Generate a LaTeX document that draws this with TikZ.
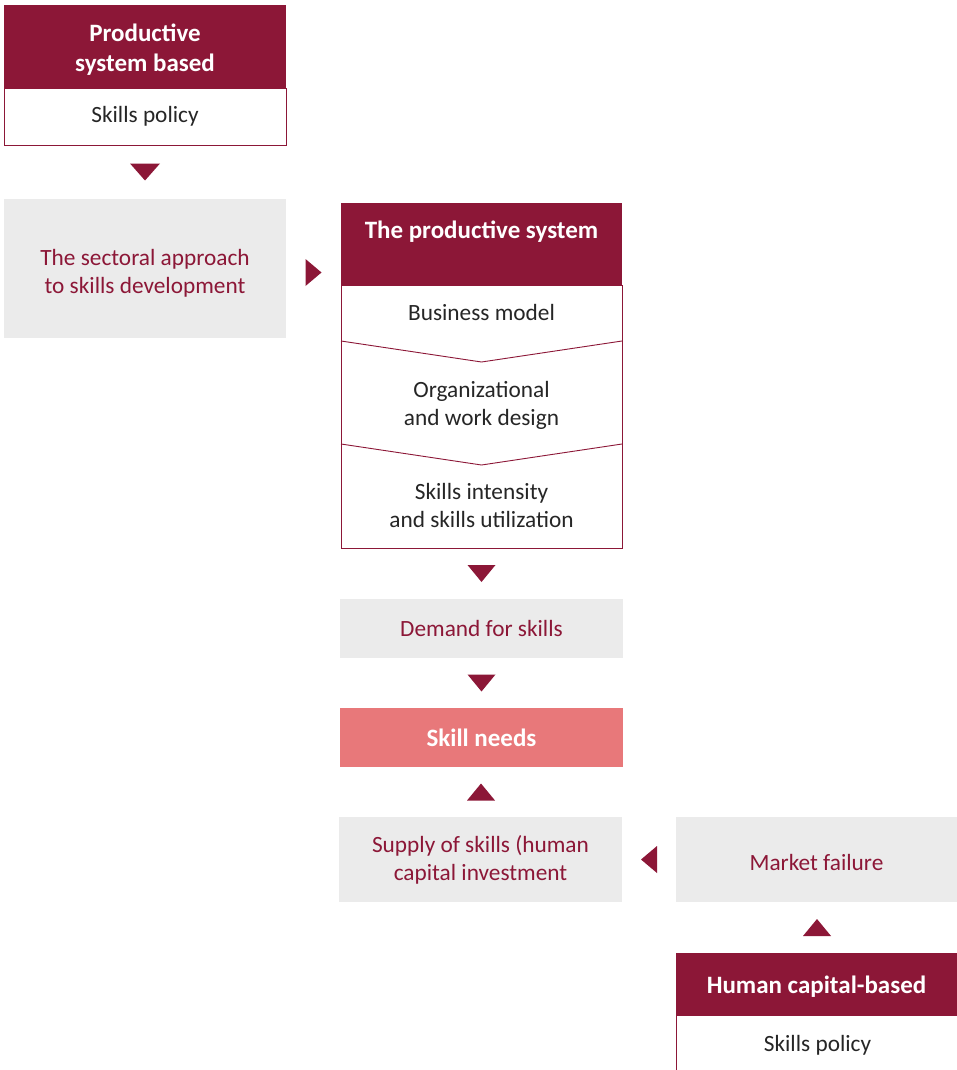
\documentclass[tikz,border=0pt]{standalone}
\usepackage{fontspec}
\setmainfont{Carlito}
\usetikzlibrary{calc}
\definecolor{wine}{HTML}{8C1737}
\definecolor{lgrey}{HTML}{EBEBEB}
\definecolor{salmon}{HTML}{E8787A}
\definecolor{txt}{HTML}{262626}
\begin{document}
\begin{tikzpicture}[x=1pt,y=-1pt,
  every node/.style={font=\fontsize{23.3}{28}\selectfont, inner sep=0pt, outer sep=0pt, align=center, anchor=north west},
  head/.style={fill=wine, text=white, font=\fontsize{25}{30}\selectfont\bfseries},
  headtext/.style={text=white, font=\fontsize{25}{30}\selectfont\bfseries, anchor=center},
  whitebox/.style={fill=white, draw=wine, line width=0.9pt, text=txt},
  greybox/.style={fill=lgrey, text=wine},
  greytext/.style={text=wine, anchor=center},
  needbox/.style={fill=salmon, text=white, font=\fontsize{25}{28}\selectfont\bfseries},
  plain/.style={text=txt, anchor=center},
  tri/.style={fill=wine}]
\clip (0,0) rectangle (957,1070);
\fill[white] (0,0) rectangle (957,1070);
% top left policy box
\node[head, minimum width=282pt, minimum height=83pt] (h1) at (4,5) {};
\node[headtext] (h1t) at ([yshift=-3pt]h1.center) {Productive\\system based};
\node[whitebox, minimum width=282pt, minimum height=57pt] (b1) at (4,88) {Skills policy};
% sectoral approach
\node[greybox, minimum width=282pt, minimum height=139pt] (sec) at (4,199) {};
\node[greytext] (sect) at ([yshift=-5pt]sec.center) {The sectoral approach\\to skills development};
% productive system
\node[head, minimum width=281pt, minimum height=82pt] (psh) at (341,203) {The productive system\\[-2pt]\mbox{}};
\node[whitebox, minimum width=281pt, minimum height=263pt] (psb) at (341,285) {};
\node[plain] (bm) at (481.5,312) {Business model};
\node[plain] (ow) at (481.5,405) {Organizational\\and work design};
\node[plain] (si) at (481.5,505) {Skills intensity\\and skills utilization};
\draw[wine, line width=0.9pt] (psb.west |- 0,341) -- (481.5,362) -- (psb.east |- 0,341);
\draw[wine, line width=0.9pt] (psb.west |- 0,444) -- (481.5,465) -- (psb.east |- 0,444);
% demand, needs, supply
\node[greybox, minimum width=283pt, minimum height=59pt] (dem) at (340,599) {Demand for skills};
\node[needbox, minimum width=283pt, minimum height=59pt] (sn) at (340,708) {Skill needs};
\node[greybox, minimum width=283pt, minimum height=85pt] (sup) at (339,817) {Supply of skills (human\\capital investment};
% market failure and human capital
\node[greybox, minimum width=281pt, minimum height=85pt] (mf) at (676,817) {};
\node[greytext] (mft) at ([yshift=-3pt]mf.center) {Market failure};
\node[head, minimum width=283pt, minimum height=62pt] (hh) at (676,953) {};
\node[headtext] (hht) at ([yshift=-3pt,xshift=-1pt]hh.center) {Human capital-based};
\node[whitebox, minimum width=283pt, minimum height=62pt] (hb) at (676,1015) {Skills policy\\[-22pt]\mbox{}};
% triangles
\coordinate (t1) at ($(b1.south)!0.5!(sec.north)$);
\fill[tri] (t1) ++(-15,-8.5) -- ++(30,0) -- ++(-15,17) -- cycle;
\coordinate (t2) at ($(sec.east)!0.5!(sec.east -| psb.west)$);
\fill[tri] ([yshift=-4pt]t2) ++(-8,-13.5) -- ++(16,13.5) -- ++(-16,13.5) -- cycle;
\coordinate (t3) at ($(psb.south)!0.5!(dem.north)$);
\fill[tri] (t3) ++(-14,-8.5) -- ++(28,0) -- ++(-14,17) -- cycle;
\coordinate (t4) at ($(dem.south)!0.5!(sn.north)$);
\fill[tri] (t4) ++(-14,-8.5) -- ++(28,0) -- ++(-14,17) -- cycle;
\coordinate (t5) at ($(sn.south)!0.5!(sup.north)$);
\fill[tri] (t5) ++(-14,8.5) -- ++(28,0) -- ++(-14,-17) -- cycle;
\coordinate (t6) at ($(sup.east)!0.5!(mf.west)$);
\fill[tri] (t6) ++(8,-13.5) -- ++(-16,13.5) -- ++(16,13.5) -- cycle;
\coordinate (t7) at ($(mf.south)!0.5!(hh.north)$);
\fill[tri] (t7) ++(-14,8.5) -- ++(28,0) -- ++(-14,-17) -- cycle;
\end{tikzpicture}
\end{document}
